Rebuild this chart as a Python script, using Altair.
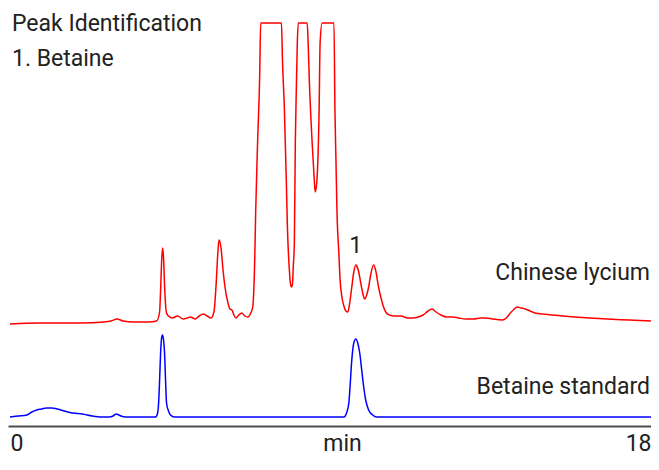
import altair as alt
import pandas as pd
import numpy as np

# ---- data ----
series_names = ["Chinese lycium", "Betaine standard"]
series_colors = ["#ff0000", "#0000ff"]
series_offsets = [103, 9]   # stacking offsets of the two traces (signal units)
x_ticks = [0, 18]
x_title = "min"
peak_label = "1"
title_lines = ["Peak Identification", "1. Betaine"]

red_time = [0, 0.835, 1.947, 2.643, 2.838, 3.005, 3.172, 3.478, 3.895, 4.118,
            4.201, 4.229, 4.257, 4.284, 4.312, 4.340, 4.368, 4.396, 4.451, 4.563,
            4.702, 4.869, 4.980, 5.063, 5.203, 5.314, 5.425, 5.536, 5.648, 5.731,
            5.787, 5.842, 5.870, 5.926, 5.982, 6.037, 6.121, 6.176, 6.232, 6.288,
            6.343, 6.427, 6.510, 6.594, 6.677, 6.761, 6.816, 6.872, 6.900, 6.955,
            7.011, 7.039, 7.623, 7.651, 7.706, 7.762, 7.790, 7.845, 7.873, 7.901,
            7.929, 7.957, 7.985, 8.012, 8.040, 8.068, 8.096, 8.346, 8.374, 8.402,
            8.485, 8.541, 8.569, 8.597, 8.625, 8.680, 8.708, 8.764, 9.097, 9.125,
            9.153, 9.181, 9.237, 9.264, 9.320, 9.376, 9.431, 9.487, 9.543, 9.598,
            9.654, 9.710, 9.737, 9.793, 9.849, 9.904, 9.960, 10.016, 10.071, 10.127,
            10.210, 10.266, 10.349, 10.433, 10.489, 10.572, 10.655, 10.795, 10.989, 11.156,
            11.323, 11.462, 11.601, 11.740, 11.852, 11.963, 12.102, 12.269, 12.436, 12.603,
            12.798, 13.020, 13.215, 13.354, 13.549, 13.827, 13.938, 14.050, 14.133, 14.244,
            14.356, 14.467, 14.606, 14.745, 14.968, 15.218, 15.524, 15.858, 16.275, 16.776,
            17.388, 18.000]
red_signal = [-1, 0, 0, 1, 2, 4, 2, 1, 1, 2,
              11, 33, 61, 75, 65, 38, 18, 10, 7, 5,
              7, 4, 5, 6, 4, 7, 9, 7, 5, 12,
              38, 73, 83, 75, 53, 36, 20, 14, 13, 8,
              5, 8, 10, 7, 6, 10, 16, 63, 113, 183,
              246, 300, 300, 263, 213, 138, 96, 53, 40, 36,
              38, 58, 80, 180, 233, 280, 300, 300, 278, 246,
              180, 145, 131, 135, 146, 213, 280, 300, 300, 213,
              163, 113, 68, 46, 26, 17, 12, 11, 21, 36,
              51, 58, 57, 51, 40, 30, 24, 28, 36, 48,
              58, 53, 36, 23, 16, 10, 8, 7, 7, 5,
              5, 6, 8, 12, 14, 11, 8, 6, 6, 5,
              4, 4, 5, 5, 4, 3, 5, 10, 13, 16,
              15, 14, 12, 10, 9, 8, 7, 6, 5, 4,
              3, 2]

blue_time = [0, 0.223, 0.473, 0.612, 0.751, 0.890, 1.029, 1.168, 1.335, 1.530,
             1.753, 2.031, 2.309, 2.587, 2.782, 2.893, 2.977, 3.060, 3.116, 3.255,
             4.090, 4.145, 4.173, 4.201, 4.229, 4.257, 4.284, 4.312, 4.340, 4.368,
             4.396, 4.451, 4.507, 4.618, 4.730, 9.376, 9.459, 9.515, 9.543, 9.598,
             9.654, 9.710, 9.765, 9.821, 9.877, 9.932, 9.988, 10.071, 10.183, 10.294,
             18.0]
blue_signal = [0, 1, 2, 5, 7, 8, 9, 9, 8, 6,
               4, 3, 1, 0, 0, 1, 3, 2, 1, 0,
               0, 4, 14, 37, 64, 79, 82, 77, 64, 37,
               14, 6, 2, 0, 0, 0, 5, 14, 27, 57,
               74, 78, 74, 64, 47, 30, 17, 7, 2, 0,
               0]

# ---- build tables ----
frames = []
for name, t, s, off in zip(series_names, [red_time, blue_time],
                           [red_signal, blue_signal], series_offsets):
    f = pd.DataFrame({"time": t, "signal": s})
    f["series"] = name
    f["y"] = f["signal"] + off
    frames.append(f)
df = pd.concat(frames, ignore_index=True)

# betaine peak: retention time from the standard, height from the sample trace
bt = np.array(blue_time)
bs = np.array(blue_signal)
mask = bt > 8
peak_t = float(bt[mask][np.argmax(bs[mask])])
peak_y = float(np.interp(peak_t, red_time, red_signal)) + series_offsets[0]
peak_df = pd.DataFrame({"time": [peak_t], "y": [peak_y], "label": [peak_label]})

FONT = "Roboto"
FS = 23
TXT = "#222222"
PLOT_W = 643
PLOT_H = 418

x_enc = alt.X(
    "time:Q",
    scale=alt.Scale(domain=[-0.0562, 18], nice=False, zero=False),
    axis=alt.Axis(
        values=x_ticks, title=x_title, grid=False, ticks=False, tickSize=0,
        domainColor="#4d4d4d", domainWidth=2,
        labelFont=FONT, labelFontSize=FS, labelColor=TXT, labelPadding=24,
        labelBaseline="alphabetic", labelFlush=6,
        titleFont=FONT, titleFontSize=FS, titleColor=TXT, titleFontWeight="normal",
        titleBaseline="alphabetic", titleX=334, titleY=24, titleAlign="center",
    ),
)
y_enc = alt.Y("y:Q", scale=alt.Scale(domain=[0, PLOT_H], nice=False, zero=False), axis=None)

lines = alt.Chart(df).mark_line(strokeWidth=1.5, interpolate="monotone").encode(
    x=x_enc,
    y=y_enc,
    color=alt.Color("series:N",
                    scale=alt.Scale(domain=series_names, range=series_colors),
                    legend=None),
)

peak = alt.Chart(peak_df).mark_text(
    dy=-12, baseline="alphabetic", align="center", font=FONT, fontSize=FS, color=TXT
).encode(x=x_enc, y=y_enc, text="label:N")


def label(text, x, y, align):
    return alt.Chart(pd.DataFrame({"t": [text]})).mark_text(
        align=align, baseline="alphabetic", font=FONT, fontSize=FS, color=TXT
    ).encode(x=alt.value(x), y=alt.value(y), text="t:N")


chart = alt.layer(
    lines,
    peak,
    label(title_lines[0], 4, 23, "left"),
    label(title_lines[1], 4, 58, "left"),
    label(series_names[0], 642, 272, "right"),
    label(series_names[1], 642, 386, "right"),
).properties(
    width=PLOT_W,
    height=PLOT_H,
    padding={"left": 0, "top": 0, "right": 0, "bottom": 31},
    autosize=alt.AutoSizeParams(type="none"),
).configure_view(stroke=None)

chart.save("out.html", embed_options={"renderer": "svg", "actions": False})
